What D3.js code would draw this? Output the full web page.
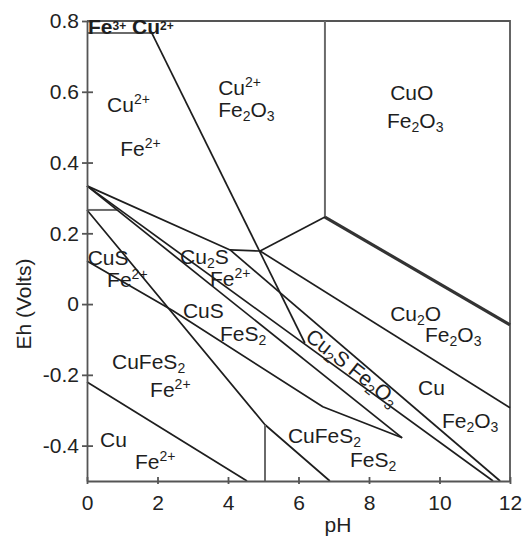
<!DOCTYPE html>
<meta charset="utf-8">
<style>
body { margin: 0; background: #fff; }
svg { font-family: "Liberation Sans", Arial, sans-serif; }
.bound { fill: none; stroke: #1e1e1e; stroke-width: 1.7; stroke-linejoin: round; }
.bound.thick { stroke: #333; stroke-width: 3.2; }
.bound.gray { stroke: #6a6a6a; stroke-width: 2; }
.frame { fill: none; stroke: #555; stroke-width: 1.8; }
.axis path, .axis line { stroke: #555; stroke-width: 1.8; }
.axis text { font-size: 21px; fill: #222; font-family: "Liberation Sans", Arial, sans-serif; }
.lbl { font-size: 21px; fill: #1e1e1e; }
.title { font-size: 21px; fill: #222; }
</style>
<svg width="531" height="550"></svg>
<script src="https://cdn.jsdelivr.net/npm/d3@7"></script>
<script>

// axis ticks
var phTicks = [0, 2, 4, 6, 8, 10, 12];
var ehTicks = [0.8, 0.6, 0.4, 0.2, 0, -0.2, -0.4];

// stability boundaries, [pH, Eh (V)]
var fe3Line      = [[0, 0.766], [1.84, 0.766]];
var fe2o3Line    = [[1.84, 0.766], [6.18, -0.110]];
var cuoLine      = [[6.75, 0.8], [6.75, 0.246]];
var cuoCu2oLine  = [[6.75, 0.246], [12, -0.059]];
var cu2Cu2oLine  = [[6.75, 0.246], [4.91, 0.150]];
var cu2oCuLine   = [[4.91, 0.150], [12, -0.293]];
var cu2sTopLine  = [[0, 0.334], [4.06, 0.153], [4.91, 0.150]];
var cuCu2sLine   = [[4.06, 0.153], [11.72, -0.5]];
var cu2sLowLine  = [[0, 0.334], [11.52, -0.5]];
var cusLine      = [[0, 0.334], [8.94, -0.378]];
var cusStepLine  = [[0, 0.266], [0.85, 0.266]];
var fes2Line     = [[0, 0.266], [5.05, -0.341], [6.89, -0.5]];
var fes2StepLine = [[5.05, -0.341], [5.05, -0.5]];
var cufes2Line   = [[0, 0.122], [2.44, -0.019], [6.69, -0.290], [8.94, -0.378]];
var cuLine       = [[0, -0.220], [4.54, -0.5]];

// region labels: text, pH of left edge, Eh of baseline
var regionLabels = [
  ["Cu^{2+}", 0.57, 0.543],
  ["Fe^{2+}", 0.94, 0.419],
  ["Cu^{2+}", 3.72, 0.591],
  ["Fe_{2}O_{3}", 3.72, 0.529],
  ["CuO", 8.60, 0.577],
  ["Fe_{2}O_{3}", 8.51, 0.498],
  ["CuS", 0.02, 0.111],
  ["Fe^{2+}", 0.57, 0.049],
  ["Cu_{2}S", 2.64, 0.113],
  ["Fe^{2+}", 3.49, 0.050],
  ["CuS", 2.72, -0.039],
  ["FeS_{2}", 3.77, -0.104],
  ["CuFeS_{2}", 0.71, -0.184],
  ["Fe^{2+}", 1.79, -0.262],
  ["Cu", 0.37, -0.403],
  ["Fe^{2+}", 1.36, -0.466],
  ["CuFeS_{2}", 5.70, -0.393],
  ["FeS_{2}", 7.46, -0.460],
  ["Cu_{2}O", 8.60, -0.047],
  ["Fe_{2}O_{3}", 9.59, -0.107],
  ["Cu", 9.39, -0.256],
  ["Fe_{2}O_{3}", 10.07, -0.350]
];
var topLabel = ["Fe^{3+} Cu^{2+}", 0.03, 0.763];
var bandLabel = ["Cu_{2}S Fe_{2}O_{3}", 7.52, -0.180];

var svg = d3.select("svg");

var x = d3.scaleLinear().domain([0, 12]).range([87, 510]);
var y = d3.scaleLinear().domain([-0.5, 0.8]).range([481, 21]);

var line = d3.line()
    .x(function(d) { return x(d[0]); })
    .y(function(d) { return y(d[1]); });

// write "Fe_{2}O_{3}" / "Cu^{2+}" as tspans
function rich(sel, str, small, up, down) {
  var parts = str.split(/([\^_]\{[^}]*\})/).filter(function(s) { return s.length; });
  var shift = 0;
  parts.forEach(function(p) {
    var t = p, target = 0, sz = null;
    if (p[0] === "^") { t = p.slice(2, -1); target = -up; sz = small; }
    else if (p[0] === "_") { t = p.slice(2, -1); target = down; sz = small; }
    var ts = sel.append("tspan").text(t).attr("dy", target - shift);
    if (sz) ts.attr("font-size", sz);
    shift = target;
  });
}

// frame (top and right)
svg.append("path")
    .attr("class", "frame")
    .attr("d", line([[x.domain()[0], y.domain()[1]], [x.domain()[1], y.domain()[1]], [x.domain()[1], y.domain()[0]]]));

var bounds = [
  [fe3Line, "gray"], [cusStepLine, "gray"],
  [fe2o3Line, ""], [cuoLine, "gray"], [cuoCu2oLine, "thick"],
  [cu2Cu2oLine, ""], [cu2oCuLine, ""], [cu2sTopLine, ""],
  [cuCu2sLine, ""], [cu2sLowLine, ""], [cusLine, ""],
  [fes2Line, ""], [fes2StepLine, "gray"], [cufes2Line, ""], [cuLine, ""]
];

svg.append("g").selectAll("path")
  .data(bounds)
  .enter().append("path")
    .attr("class", function(d) { return "bound " + d[1]; })
    .attr("d", function(d) { return line(d[0]); });

// axes
svg.append("g")
    .attr("class", "axis")
    .attr("transform", "translate(0," + y.range()[0] + ")")
    .call(d3.axisBottom(x).tickValues(phTicks).tickSize(3).tickSizeOuter(0).tickFormat(d3.format("d")))
    .call(function(g) { g.selectAll(".tick line").attr("y1", -4); })
    .call(function(g) { g.selectAll(".tick text").attr("y", 14); });

svg.append("g")
    .attr("class", "axis")
    .attr("transform", "translate(" + x.range()[0] + ",0)")
    .call(d3.axisLeft(y).tickValues(ehTicks).tickSize(5).tickSizeOuter(0)
      .tickFormat(function(d) { return d === 0 ? "0" : d.toFixed(1); }))
    .call(function(g) { g.selectAll(".tick line").attr("x1", 6); })
    .call(function(g) { g.selectAll(".tick text").attr("x", -8); });

svg.append("text")
    .attr("class", "title")
    .attr("text-anchor", "middle")
    .attr("x", 338)
    .attr("y", 532)
    .text("pH");

svg.append("text")
    .attr("class", "title")
    .attr("text-anchor", "middle")
    .attr("transform", "translate(31," + y(0) + ") rotate(-90)")
    .text("Eh (Volts)");

// region labels
regionLabels.forEach(function(d) {
  var t = svg.append("text")
      .attr("class", "lbl")
      .attr("x", x(d[1]))
      .attr("y", y(d[2]));
  rich(t, d[0], 14, 8, 4);
});

var tl = svg.append("text")
    .attr("class", "lbl")
    .attr("font-size", 15)
    .attr("font-weight", "bold")
    .attr("x", x(topLabel[1]))
    .attr("y", y(topLabel[2]));
rich(tl, topLabel[0], 12, 4, 4);

// label along the narrow Cu2S + Fe2O3 band
var a = cuCu2sLine, b = cu2sLowLine;
var ang = (Math.atan2(y(a[1][1]) - y(a[0][1]), x(a[1][0]) - x(a[0][0])) +
           Math.atan2(y(b[1][1]) - y(b[0][1]), x(b[1][0]) - x(b[0][0]))) / 2 * 180 / Math.PI;
var bl = svg.append("text")
    .attr("class", "lbl")
    .attr("text-anchor", "middle")
    .attr("transform", "translate(" + x(bandLabel[1]) + "," + y(bandLabel[2]) + ") rotate(" + ang + ") translate(0,7)");
rich(bl, bandLabel[0], 14, 8, 4);

</script>
